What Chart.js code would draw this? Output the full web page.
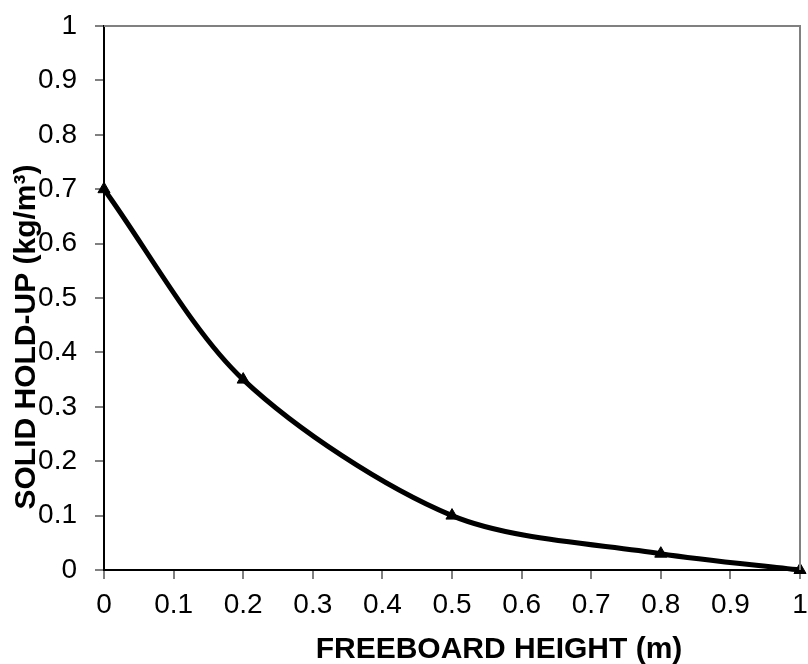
<!DOCTYPE html>
<html>
<head>
<meta charset="utf-8">
<script src="https://cdn.jsdelivr.net/npm/chart.js@4/dist/chart.umd.min.js"></script>
<style>
  html, body { margin: 0; padding: 0; background: #ffffff; }
  #wrap { width: 808px; height: 664px; position: relative; }
</style>
</head>
<body>
<div id="wrap"><canvas id="c" width="808" height="664"></canvas></div>
<script>
const freeboardHeight = [0, 0.2, 0.5, 0.8, 1];
const solidHoldUp = [0.7, 0.35, 0.1, 0.03, 0];
const xTitle = 'FREEBOARD HEIGHT (m)';
const yTitle = 'SOLID HOLD-UP (kg/m³)';

const points = freeboardHeight.map((x, i) => ({ x: x, y: solidHoldUp[i] }));

const FONT = '"Liberation Sans", Arial, sans-serif';

const framePlugin = {
  id: 'frame',
  afterDraw(chart) {
    const ctx = chart.ctx;
    const a = chart.chartArea;
    ctx.save();
    ctx.strokeStyle = '#808080';
    ctx.lineWidth = 2;
    ctx.beginPath();
    ctx.moveTo(a.left, a.top);
    ctx.lineTo(a.right, a.top);
    ctx.lineTo(a.right, a.bottom);
    ctx.stroke();
    // titles
    ctx.fillStyle = '#000000';
    ctx.font = 'bold 30px ' + FONT;
    ctx.textAlign = 'center';
    ctx.textBaseline = 'alphabetic';
    ctx.fillText(xTitle, 499, 658);
    ctx.translate(35, 337);
    ctx.rotate(-Math.PI / 2);
    ctx.fillText(yTitle, 0, 0);
    ctx.restore();
  }
};

new Chart(document.getElementById('c'), {
  type: 'line',
  data: {
    datasets: [{
      data: points,
      borderColor: '#000000',
      backgroundColor: '#000000',
      borderWidth: 5,
      tension: 0.3,
      pointStyle: 'triangle',
      pointRadius: 7,
      pointBorderWidth: 1,
      pointBackgroundColor: '#000000',
      pointBorderColor: '#000000',
      clip: false
    }]
  },
  options: {
    responsive: false,
    animation: false,
    devicePixelRatio: 1,
    layout: { padding: { top: 26, right: 6, left: 0, bottom: 0 } },
    plugins: { legend: { display: false }, tooltip: { enabled: false } },
    scales: {
      x: {
        type: 'linear',
        min: 0, max: 1,
        afterFit(s) { s.height = 94; s.paddingLeft = 0; s.paddingRight = 0; },
        ticks: {
          stepSize: 0.1,
          color: '#000000',
          font: { family: FONT, size: 28 },
          padding: 9,
          maxRotation: 0,
          autoSkip: false,
          callback: v => String(Math.round(v * 10) / 10)
        },
        grid: { drawOnChartArea: false, drawTicks: true, tickLength: 9, color: '#808080', lineWidth: 2 },
        border: { color: '#000000', width: 2 }
      },
      y: {
        type: 'linear',
        min: 0, max: 1,
        afterFit(s) { s.width = 104; s.paddingTop = 0; s.paddingBottom = 0; },
        ticks: {
          stepSize: 0.1,
          color: '#000000',
          font: { family: FONT, size: 28 },
          padding: 18,
          autoSkip: false,
          callback: v => String(Math.round(v * 10) / 10)
        },
        grid: { drawOnChartArea: false, drawTicks: true, tickLength: 9, color: '#808080', lineWidth: 2 },
        border: { color: '#000000', width: 2 }
      }
    }
  },
  plugins: [framePlugin]
});
</script>
</body>
</html>
